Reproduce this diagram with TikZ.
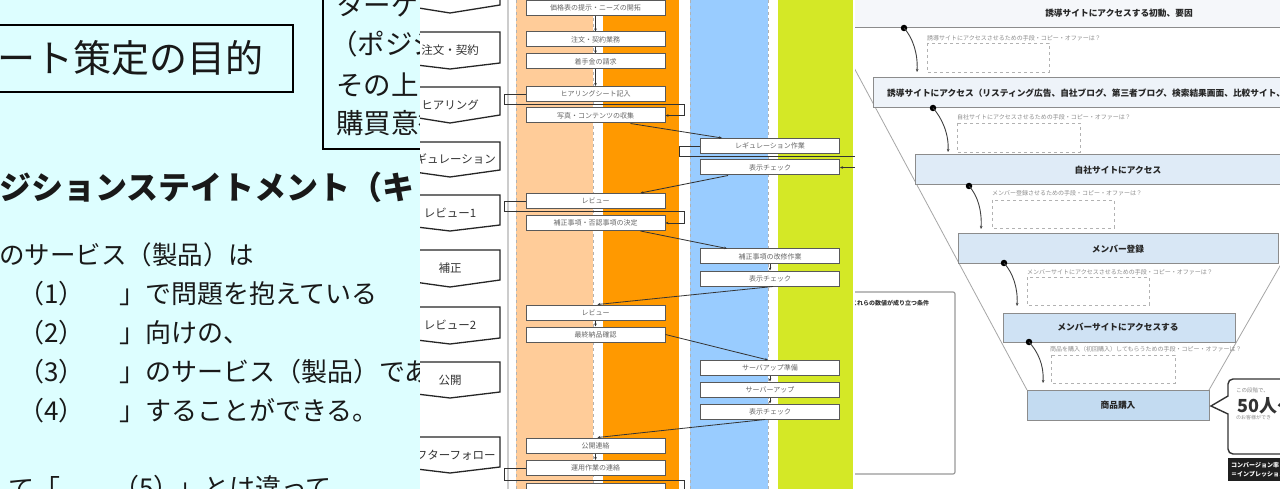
\documentclass[tikz,border=0pt]{standalone}
\usepackage{fontspec}
\setmainfont{Noto Sans CJK JP}
\usetikzlibrary{arrows.meta}
\newcommand\fsz[1]{\fontsize{#1}{#1}\selectfont}
\definecolor{pbg}{RGB}{221,254,255}
\definecolor{lorange}{RGB}{255,204,153}
\definecolor{dorange}{RGB}{255,153,0}
\definecolor{lblue}{RGB}{153,204,255}
\definecolor{ygreen}{RGB}{212,232,38}
\definecolor{fa}{RGB}{245,247,250}
\definecolor{fb}{RGB}{238,243,249}
\definecolor{fc}{RGB}{223,235,247}
\definecolor{fd}{RGB}{216,231,245}
\definecolor{fe}{RGB}{207,226,244}
\definecolor{ff}{RGB}{195,219,241}
\begin{document}
\begin{tikzpicture}[x=1pt,y=-1pt,
  txt/.style={inner sep=0pt, anchor=west, text=black!90},
  chev/.style={draw=black!85, line width=1.3pt, fill=white},
  chevtxt/.style={font=\fsz{11.5}, text=black!80, inner sep=0pt},
  pbox/.style={draw=black!65, line width=1pt, fill=white, minimum width=139pt, minimum height=15pt, inner sep=0pt, font=\fsz{7}, text=black!60},
  arr/.style={draw=black!80, line width=0.8pt, -{Stealth[length=3pt,width=2.6pt]}},
  plain/.style={draw=black!80, line width=0.8pt},
  lane/.style={draw=black!30, dashed, line width=0.6pt},
  stage/.style={draw=black!45, line width=1pt},
  stxt/.style={font=\bfseries\fsz{8.7}, text=black!85, inner sep=0pt},
  qlab/.style={font=\fsz{6}, text=black!45, inner sep=0pt, anchor=west},
  inbox/.style={draw=black!30, dashed, line width=0.7pt, fill=white},
  carr/.style={draw=black!75, line width=0.9pt, -{Stealth[length=3pt,width=2.6pt]}},
  dot/.style={circle, fill=black, inner sep=0pt, minimum size=6.5pt}
]
\useasboundingbox (0,0) rectangle (1280,489);

% ---------------- Panel 1 ----------------
\begin{scope}
\clip (0,0) rectangle (420,489);
\fill[pbg] (0,0) rectangle (420,489);
\draw[line width=2pt] (-10,25) rectangle (293,92);
\node[txt, font=\fsz{38}] (title) at (-3,58) {ート策定の目的};
\draw[line width=1.8pt, fill=pbg] (323,-10) rectangle (440,149);
\node[txt, font=\fsz{27.5}] (t1) at (336,5) {ターゲット};
\node[txt, font=\fsz{27.5}] (t2) at (330,44) {（ポジション};
\node[txt, font=\fsz{27.5}] (t3) at (336,85) {その上で};
\node[txt, font=\fsz{27.5}] (t4) at (336,123) {購買意欲};
\node[txt, font=\bfseries\fsz{32}] (head) at (-1,187) {ジションステイトメント（キ};
\node[txt, font=\fsz{25.5}] (b0) at (-1,255) {のサービス（製品）は};
\node[txt, font=\fsz{26}] (n1) at (18,294) {（1）};
\node[txt, font=\fsz{26}] (r1) at (119,294) {」で問題を抱えている};
\node[txt, font=\fsz{26}] (n2) at (18,333) {（2）};
\node[txt, font=\fsz{26}] (r2) at (119,333) {」向けの、};
\node[txt, font=\fsz{26}] (n3) at (18,372) {（3）};
\node[txt, font=\fsz{26}] (r3) at (119,372) {」のサービス（製品）である};
\node[txt, font=\fsz{26}] (n4) at (18,411) {（4）};
\node[txt, font=\fsz{26}] (r4) at (119,411) {」することができる。};
\node[txt, font=\fsz{26}] (b5a) at (-17,488) {して「};
\node[txt, font=\fsz{26}] (n5) at (113,488) {（5）};
\node[txt, font=\fsz{26}] (r5) at (177,488) {」とは違って、};
\end{scope}

% ---------------- Panel 2 ----------------
\begin{scope}
\clip (420,0) rectangle (855,489);
\fill[white] (420,0) rectangle (855,489);
\draw[black!20, line width=1.5pt] (508,0) -- (508,489);
\fill[lorange] (516,0) rectangle (593,489);
\fill[dorange] (603,0) rectangle (679,489);
\fill[lblue] (690,0) rectangle (768,489);
\fill[ygreen] (778,0) rectangle (853,489);
\draw[lane] (516,0) -- (516,489);
\draw[lane] (593,0) -- (593,489);
\draw[lane] (690,0) -- (690,489);
\draw[lane] (768,0) -- (768,489);
% chevrons
\foreach \t/\c/\p in {-30/5/13, 32/63/69, 87/115/123, 142/170/177, 195/225/231, 250/280/287, 307/338/344, 362/392/398, 437/467/473}{
  \draw[chev] (400,\t) -- (500,\t) -- (500,\c) -- (450,\p) -- (400,\c) -- cycle;
}
\node[chevtxt] (c1) at (450,50) {注文・契約};
\node[chevtxt] (c2) at (450,105) {ヒアリング};
\node[chevtxt] (c3) at (450,159) {レギュレーション};
\node[chevtxt] (c4) at (450,213) {レビュー1};
\node[chevtxt] (c5) at (450,268) {補正};
\node[chevtxt] (c6) at (450,325) {レビュー2};
\node[chevtxt] (c7) at (450,380) {公開};
\node[chevtxt] (c8) at (450,455) {アフターフォロー};
% column A boxes
\node[pbox] (a1) at (595.5,8) {価格表の提示・ニーズの開拓};
\node[pbox] (a2) at (595.5,39.5) {注文・契約業務};
\node[pbox] (a3) at (595.5,61.5) {着手金の請求};
\node[pbox] (a4) at (595.5,94) {ヒアリングシート記入};
\node[pbox] (a5) at (595.5,115.5) {写真・コンテンツの収集};
\node[pbox] (a6) at (595.5,201) {レビュー};
\node[pbox] (a7) at (595.5,223) {補正事項・否認事項の決定};
\node[pbox] (a8) at (595.5,312.5) {レビュー};
\node[pbox] (a9) at (595.5,334.5) {最終納品確認};
\node[pbox] (a10) at (595.5,445.5) {公開連絡};
\node[pbox] (a11) at (595.5,468) {運用作業の連絡};
\node[pbox] (a12) at (595.5,491) {};
% column B boxes
\node[pbox] (b1) at (770,146) {レギュレーション作業};
\node[pbox] (b2) at (770,167.5) {表示チェック};
\node[pbox] (b3) at (770,256.5) {補正事項の改修作業};
\node[pbox] (b4) at (770,278.5) {表示チェック};
\node[pbox] (b5) at (770,368) {サーバアップ準備};
\node[pbox] (b6) at (770,389.5) {サーバーアップ};
\node[pbox] (b7) at (770,411.5) {表示チェック};
% connectors
\draw[arr] (a1.south) -- (a2.north);
\draw[arr] (a2.south) -- (a3.north);
\draw[arr] (a3.south) -- (a4.north);
\draw[arr] (a4.west) -- ++(-21,0) -- ++(0,10) -- ++(180,0) |- (a5.east);
\draw[arr] ([xshift=-35pt]a5.south east) -- ([xshift=-48pt]b1.north);
\draw[arr] (b1.west) -- ++(-21,0) -- ++(0,10) -- ++(185,0) |- (b2.east);
\draw[arr] ([xshift=-42pt]b2.south) -- ([xshift=45pt]a6.north);
\draw[arr] (a6.west) -- ++(-21,0) -- ++(0,10) -- ++(180,0) |- (a7.east);
\draw[arr] ([xshift=45pt]a7.south) -- ([xshift=-43pt]b3.north);
\draw[arr] (b3.south) -- (b4.north);
\draw[arr] ([xshift=3pt]b4.south) -- ([xshift=2pt]a8.north);
\draw[arr] (a8.south) -- (a9.north);
\draw[arr] (a9.east) -- ([xshift=-2pt]b5.north);
\draw[arr] (b5.south) -- (b6.north);
\draw[arr] (b6.south) -- (b7.north);
\draw[arr] ([xshift=-5pt]b7.south) -- ([xshift=2pt]a10.north);
\draw[arr] (a10.south) -- (a11.north);
\draw[plain] (a11.west) -- ++(-21,0) -- ++(0,12) -- ++(180,0) -- ++(0,30);
\end{scope}

% ---------------- Panel 3 ----------------
\begin{scope}
\clip (855,0) rectangle (1280,489);
\fill[white] (855,0) rectangle (1280,489);
\draw[black!35, line width=0.8pt] (830,23) -- (1027,390);
\draw[black!35, line width=0.8pt] (1300,231) -- (1209,390);
% left box
\draw[draw=black!40, line width=1.2pt, rounded corners=2pt, fill=white] (830,292) rectangle (955,474);
\node[qlab, font=\bfseries\fsz{6}, text=black!80] (cond) at (851,303) {これらの数値が成り立つ条件};
% stage boxes
\path[stage, fill=fa] (840,-2) rectangle (1300,28);
\node[stxt] (s1) at (1119,13) {誘導サイトにアクセスする初動、要因};
\path[stage, fill=fb] (873,78) rectangle (1300,108);
\node[stxt, anchor=west] (s2) at (887,93) {誘導サイトにアクセス（リスティング広告、自社ブログ、第三者ブログ、検索結果画面、比較サイト、ニ};
\path[stage, fill=fc] (915,155) rectangle (1300,185);
\node[stxt] (s3) at (1118,170) {自社サイトにアクセス};
\path[stage, fill=fd] (958,234) rectangle (1278,264);
\node[stxt] (s4) at (1118,249) {メンバー登録};
\path[stage, fill=fe] (1003,313) rectangle (1235,342);
\node[stxt] (s5) at (1118,327) {メンバーサイトにアクセスする};
\path[stage, fill=ff] (1027,390) rectangle (1209,420);
\node[stxt] (s6) at (1118,405) {商品購入};
% question labels and input boxes
\node[qlab] (l1) at (927,38) {誘導サイトにアクセスさせるための手段・コピー・オファーは？};
\path[inbox] (927,43) rectangle (1049,72);
\node[qlab] (l2) at (957,117) {自社サイトにアクセスさせるための手段・コピー・オファーは？};
\path[inbox] (957,123) rectangle (1080,152);
\node[qlab] (l3) at (992,193) {メンバー登録させるための手段・コピー・オファーは？};
\path[inbox] (992,200) rectangle (1114,228);
\node[qlab] (l4) at (1027,272) {メンバーサイトにアクセスさせるための手段・コピー・オファーは？};
\path[inbox] (1027,277) rectangle (1149,305);
\node[qlab] (l5) at (1050,349) {商品を購入（初回購入）してもらうための手段・コピー・オファーは？};
\path[inbox] (1051,355) rectangle (1175,383);
% dots and curved arrows
\node[dot] (d1) at (904,28) {};
\node[dot] (d2) at (933,108) {};
\node[dot] (d3) at (969,186) {};
\node[dot] (d4) at (1004,263) {};
\node[dot] (d5) at (1029,342) {};
\coordinate (e1) at (917,72);
\coordinate (e2) at (948,152);
\coordinate (e3) at (981,229);
\coordinate (e4) at (1017,306);
\coordinate (e5) at (1043,383);
\foreach \i in {1,...,5}{
  \draw[carr] (d\i.center) .. controls +(9,10) and +(1,-18) .. (e\i);
}
% speech bubble
\draw[draw=black!80, line width=1.4pt, fill=white] (1228,396) -- (1211,406) -- (1228,414) [rounded corners=5pt] -- (1228,454) -- (1300,454) -- (1300,379) -- (1228,379) [sharp corners] -- cycle;
\node[qlab, font=\fsz{5.5}] (bb1) at (1236,390) {この段階で、};
\node[txt, font=\bfseries\fsz{18}, text=black!80] (bb2) at (1237,406) {50人〜};
\node[qlab, font=\fsz{5}] (bb3) at (1236,418) {のお客様ができ};
\fill[black!88] (1228,458) rectangle (1300,481);
\node[qlab, font=\bfseries\fsz{6}, text=white] (k1) at (1231,465) {コンバージョン率};
\node[qlab, font=\bfseries\fsz{6}, text=white] (k2) at (1231,474) {＝インプレッション};
\end{scope}
\end{tikzpicture}
\end{document}
